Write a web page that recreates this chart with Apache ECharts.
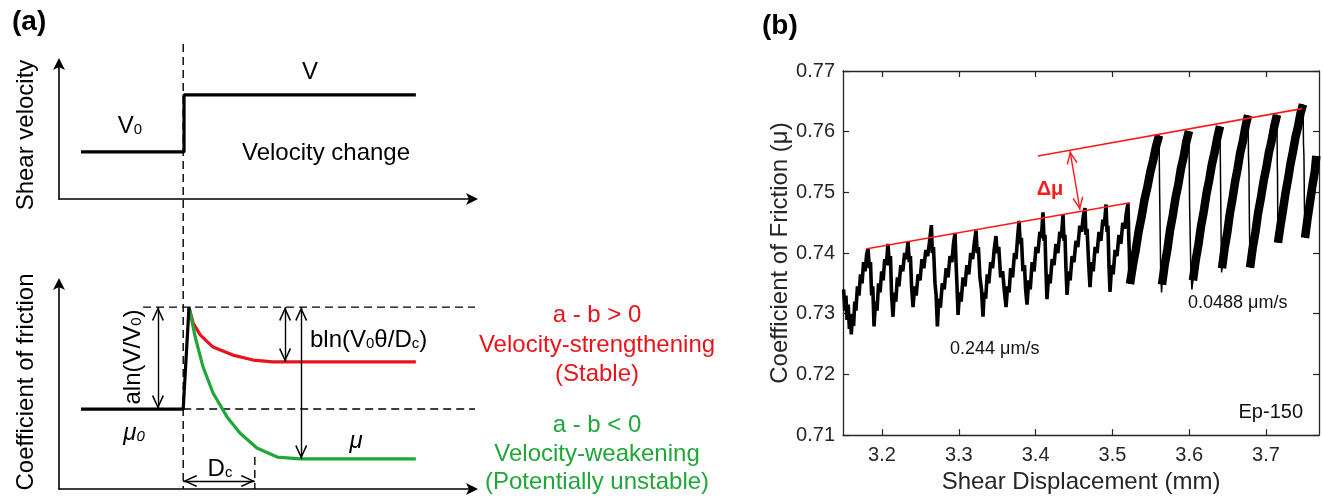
<!DOCTYPE html>
<html>
<head>
<meta charset="utf-8">
<script src="https://cdn.jsdelivr.net/npm/echarts@6/dist/echarts.min.js"></script>
<style>
html,body{margin:0;padding:0;background:#fff;}
#chart{width:1323px;height:499px;}
</style>
</head>
<body>
<div id="chart"></div>
<script>
// ---------- (a) rate-and-state schematic, arbitrary units ----------
const stepVelocity = [[0.53,3.46],[3.02,3.46],[3.02,7.65],[8.62,7.65]];
const frictionBefore = [[0.53,3.88],[3.0,3.88],[3.14,8.83]];
const frictionStrengthening = [[3.14,8.83],[3.24,8.06],[3.41,7.48],[3.72,6.89],[4.20,6.50],[4.69,6.26],[5.17,6.17],[8.62,6.17]];
const frictionWeakening = [[3.14,8.83],[3.29,7.38],[3.48,5.92],[3.72,4.66],[4.06,3.50],[4.37,2.72],[4.78,1.99],[5.27,1.55],[5.82,1.46],[8.62,1.46]];
const stepGuide = [[3.0,11.4],[3.0,-21.3]];
const peakLevel = [[2.03,8.83],[10.05,8.83]];
const baseLevel = [[3.0,3.88],[10.05,3.88]];
const dcGuide = [[4.73,1.55],[4.73,0]];
const spanArrows = [
  [[2.39,8.83],[2.39,3.88]],
  [[5.46,8.83],[5.46,6.17]],
  [[5.85,8.83],[5.85,1.46]],
  [[3.0,0.39],[4.73,0.39]]
];

// ---------- (b) friction record, Ep-150 ----------
const xTicks = [3.2,3.3,3.4,3.5,3.6,3.7];
const traceFast = [
[3.1500,0.7340],[3.1515,0.7305],[3.1530,0.7330],[3.1545,0.7290],[3.1560,0.7315],[3.1575,0.7275],[3.1590,0.7300],[3.1600,0.7266],[3.1615,0.7295],[3.1630,0.7280],[3.1645,0.7320],[3.1660,0.7305],[3.1680,0.7345],[3.1700,0.7330],[3.1720,0.7365],[3.1740,0.7350],[3.1760,0.7385],[3.1780,0.7370],[3.1800,0.7398],[3.1818,0.7407],
[3.1835,0.7375],[3.1850,0.7385],[3.1865,0.7330],[3.1880,0.7345],[3.1896,0.7279],
[3.1915,0.7320],[3.1935,0.7305],[3.1955,0.7350],[3.1975,0.7335],[3.1995,0.7370],[3.2015,0.7355],[3.2035,0.7390],[3.2055,0.7380],[3.2078,0.7415],
[3.2095,0.7380],[3.2110,0.7395],[3.2125,0.7330],[3.2143,0.7295],
[3.2160,0.7335],[3.2180,0.7320],[3.2200,0.7360],[3.2220,0.7345],[3.2245,0.7380],[3.2270,0.7370],[3.2295,0.7400],[3.2315,0.7390],[3.2339,0.7419],
[3.2355,0.7385],[3.2370,0.7395],[3.2385,0.7345],[3.2404,0.7311],
[3.2425,0.7345],[3.2445,0.7330],[3.2470,0.7365],[3.2495,0.7355],[3.2520,0.7390],[3.2545,0.7375],[3.2570,0.7405],[3.2595,0.7395],[3.2620,0.7420],[3.2643,0.7446],
[3.2655,0.7400],[3.2670,0.7410],[3.2690,0.7350],[3.2705,0.7330],[3.2721,0.7279],
[3.2740,0.7325],[3.2760,0.7310],[3.2785,0.7350],[3.2810,0.7340],[3.2835,0.7375],[3.2860,0.7360],[3.2885,0.7395],[3.2910,0.7385],[3.2930,0.7415],[3.2951,0.7433],
[3.2962,0.7390],[3.2975,0.7350],[3.2990,0.7298],
[3.3010,0.7335],[3.3030,0.7320],[3.3055,0.7360],[3.3080,0.7345],[3.3105,0.7380],[3.3130,0.7365],[3.3155,0.7400],[3.3180,0.7390],[3.3200,0.7415],[3.3224,0.7437],
[3.3240,0.7400],[3.3255,0.7410],[3.3275,0.7360],[3.3295,0.7340],[3.3315,0.7295],
[3.3330,0.7335],[3.3350,0.7325],[3.3370,0.7365],[3.3390,0.7350],[3.3415,0.7385],[3.3440,0.7375],[3.3460,0.7405],[3.3484,0.7428],
[3.3500,0.7400],[3.3520,0.7410],[3.3545,0.7360],[3.3570,0.7370],[3.3595,0.7335],[3.3615,0.7311],
[3.3635,0.7345],[3.3655,0.7335],[3.3675,0.7375],[3.3700,0.7360],[3.3725,0.7400],[3.3745,0.7390],[3.3765,0.7425],[3.3784,0.7453],
[3.3800,0.7415],[3.3815,0.7425],[3.3835,0.7370],[3.3855,0.7380],[3.3870,0.7340],[3.3888,0.7315],
[3.3910,0.7355],[3.3930,0.7340],[3.3955,0.7385],[3.3980,0.7370],[3.4005,0.7410],[3.4030,0.7400],[3.4055,0.7435],[3.4075,0.7425],[3.4096,0.7467],
[3.4110,0.7420],[3.4122,0.7430],[3.4135,0.7370],[3.4148,0.7324],
[3.4170,0.7365],[3.4190,0.7350],[3.4215,0.7390],[3.4240,0.7380],[3.4265,0.7415],[3.4290,0.7400],[3.4315,0.7435],[3.4335,0.7425],[3.4357,0.7463],
[3.4370,0.7420],[3.4382,0.7430],[3.4395,0.7375],[3.4409,0.7331],
[3.4430,0.7370],[3.4450,0.7355],[3.4475,0.7395],[3.4500,0.7385],[3.4525,0.7420],[3.4550,0.7410],[3.4575,0.7445],[3.4600,0.7435],[3.4620,0.7460],[3.4643,0.7474],
[3.4655,0.7430],[3.4670,0.7440],[3.4690,0.7385],[3.4708,0.7344],
[3.4730,0.7385],[3.4750,0.7370],[3.4775,0.7410],[3.4800,0.7400],[3.4825,0.7435],[3.4850,0.7420],[3.4875,0.7455],[3.4895,0.7445],[3.4917,0.7480],
[3.4930,0.7435],[3.4942,0.7445],[3.4955,0.7380],[3.4969,0.7336],
[3.4990,0.7380],[3.5010,0.7365],[3.5035,0.7405],[3.5060,0.7395],[3.5085,0.7430],[3.5110,0.7415],[3.5135,0.7450],[3.5160,0.7440],[3.5180,0.7465],[3.5203,0.7482],
[3.5212,0.7430],[3.5220,0.7400],[3.5229,0.7349]
];
// slow-rate loading ramps (0.0488 µm/s) and the stress drops after each peak
const rampsSlow = [
 [[3.5229,0.7349],[3.5267,0.7380],[3.5305,0.7406],[3.5342,0.7436],[3.5380,0.7460],[3.5418,0.7488],[3.5456,0.7509],[3.5494,0.7534],[3.5531,0.7553],[3.5569,0.7576],[3.5607,0.7594]],
 [[3.5646,0.7348],[3.5681,0.7381],[3.5716,0.7406],[3.5751,0.7438],[3.5786,0.7462],[3.5822,0.7491],[3.5857,0.7512],[3.5892,0.7539],[3.5927,0.7558],[3.5962,0.7583],[3.5997,0.7601]],
 [[3.6049,0.7355],[3.6084,0.7388],[3.6119,0.7413],[3.6155,0.7445],[3.6190,0.7469],[3.6225,0.7498],[3.6260,0.7520],[3.6295,0.7546],[3.6331,0.7566],[3.6366,0.7590],[3.6401,0.7609]],
 [[3.6427,0.7375],[3.6461,0.7408],[3.6495,0.7433],[3.6529,0.7465],[3.6563,0.7489],[3.6597,0.7517],[3.6630,0.7539],[3.6664,0.7565],[3.6698,0.7584],[3.6732,0.7608],[3.6766,0.7627]],
 [[3.6792,0.7376],[3.6827,0.7409],[3.6862,0.7434],[3.6897,0.7466],[3.6932,0.7490],[3.6968,0.7518],[3.7003,0.7540],[3.7038,0.7566],[3.7073,0.7585],[3.7108,0.7609],[3.7143,0.7628]],
 [[3.7156,0.7417],[3.7189,0.7446],[3.7221,0.7471],[3.7254,0.7499],[3.7286,0.7521],[3.7319,0.7547],[3.7352,0.7568],[3.7384,0.7591],[3.7417,0.7608],[3.7449,0.7630],[3.7482,0.7645]],
 [[3.7508,0.7425],[3.7540,0.7456],[3.7572,0.7483],[3.7604,0.7511],[3.7636,0.7535],[3.7655,0.7560]]
];
const dropsSlow = [
 [[3.5607,0.7594],[3.5615,0.7500],[3.5628,0.7372],[3.5640,0.7335],[3.5646,0.7348]],
 [[3.5997,0.7601],[3.6005,0.7480],[3.6020,0.7380],[3.6035,0.7340],[3.6049,0.7355]],
 [[3.6401,0.7609],[3.6408,0.7520],[3.6416,0.7420],[3.6422,0.7368],[3.6427,0.7375]],
 [[3.6766,0.7627],[3.6772,0.7560],[3.6778,0.7535],[3.6784,0.7450],[3.6792,0.7376]],
 [[3.7143,0.7628],[3.7147,0.7545],[3.7150,0.7530],[3.7153,0.7460],[3.7156,0.7417]],
 [[3.7482,0.7645],[3.7488,0.7580],[3.7494,0.7560],[3.7500,0.7480],[3.7508,0.7425]],
 [[3.7655,0.7560],[3.7668,0.7540],[3.7680,0.7548]]
];
const envelopeFast = [[3.1805,0.7407],[3.5229,0.7483]];
const envelopeSlow = [[3.4030,0.7560],[3.7470,0.7638]];
const deltaMuSpan = [[3.4448,0.7568],[3.4578,0.7471]];

// ---------- build ----------
const FONT = '"Liberation Sans", Arial, Helvetica, sans-serif';
const RED = '#e8141c', GREEN = '#21a63a', LINE_RED = '#ff1a1a';
// open arrowhead; the zero-area first sub-path centres the tip on the line end
const chevron = 'path://M6,-13.4 L6.01,-13.4 L6,-13.39 Z M6,0 L12,12.4 L10.7,13.4 L6,3.3 L1.3,13.4 L0,12.4 Z';

const slowPath = [];
rampsSlow.forEach((r, i) => { slowPath.push(...r, ...dropsSlow[i]); });

function spanLine(pair) {
  return [{coord: pair[0]}, {coord: pair[1]}];
}

function hiddenAxis(grid, min, max) {
  return {
    type: 'value', gridIndex: grid, min, max,
    axisLine: {show: true, lineStyle: {color: '#000', width: 1.6}, symbol: ['none', 'arrow'], symbolSize: [9, 12], symbolOffset: [0, 5]},
    axisTick: {show: false}, axisLabel: {show: false}, splitLine: {show: false}
  };
}

const frameLine = {show: true, onZero: false, lineStyle: {color: '#262626', width: 1.3}};
const tickStyle = {show: true, inside: true, length: 6, lineStyle: {color: '#262626', width: 1.2}};

const series = [
  // (a) top: shear velocity step
  {type: 'line', xAxisIndex: 0, yAxisIndex: 0, data: stepVelocity, showSymbol: false,
   lineStyle: {color: '#000', width: 3.2}, z: 3},
  {type: 'line', xAxisIndex: 0, yAxisIndex: 0, data: stepGuide, showSymbol: false, clip: false,
   lineStyle: {color: '#000', width: 1.4, type: [8, 5]}, z: 2},
  // (a) bottom: friction response
  {type: 'line', xAxisIndex: 1, yAxisIndex: 1, data: peakLevel, showSymbol: false, clip: false,
   lineStyle: {color: '#000', width: 1.4, type: [8, 5]}},
  {type: 'line', xAxisIndex: 1, yAxisIndex: 1, data: baseLevel, showSymbol: false, clip: false,
   lineStyle: {color: '#000', width: 1.4, type: [8, 5]}},
  {type: 'line', xAxisIndex: 1, yAxisIndex: 1, data: dcGuide, showSymbol: false,
   lineStyle: {color: '#000', width: 1.4, type: [8, 5]}},
  {type: 'line', xAxisIndex: 1, yAxisIndex: 1, data: frictionStrengthening, showSymbol: false,
   lineStyle: {color: RED, width: 3.2}, z: 4},
  {type: 'line', xAxisIndex: 1, yAxisIndex: 1, data: frictionWeakening, showSymbol: false,
   lineStyle: {color: GREEN, width: 3.2}, z: 4},
  {type: 'line', xAxisIndex: 1, yAxisIndex: 1, data: frictionBefore, showSymbol: false,
   lineStyle: {color: '#000', width: 3.2}, z: 5,
   markLine: {
     silent: true, animation: false,
     symbol: [chevron, chevron], symbolSize: [12, 28],
     itemStyle: {color: '#000'},
     lineStyle: {color: '#000', width: 1.4, type: 'solid'},
     label: {show: false},
     data: spanArrows.map(spanLine)
   }},
  // (b) friction record
  {type: 'line', xAxisIndex: 2, yAxisIndex: 2, data: traceFast, showSymbol: false,
   lineStyle: {color: '#000', width: 3.6, join: 'miter', miterLimit: 3}, z: 2},
  {type: 'line', xAxisIndex: 2, yAxisIndex: 2, data: slowPath, showSymbol: false,
   lineStyle: {color: '#000', width: 1.5}, z: 2},
  ...rampsSlow.map(r => ({type: 'line', xAxisIndex: 2, yAxisIndex: 2, data: r, showSymbol: false,
   lineStyle: {color: '#000', width: 8.5, join: 'miter', cap: 'butt'}, z: 2})),
  {type: 'line', xAxisIndex: 2, yAxisIndex: 2, data: envelopeFast, showSymbol: false,
   lineStyle: {color: LINE_RED, width: 1.6}, z: 5},
  {type: 'line', xAxisIndex: 2, yAxisIndex: 2, data: envelopeSlow, showSymbol: false,
   lineStyle: {color: LINE_RED, width: 1.6}, z: 5,
   markLine: {
     silent: true, animation: false,
     symbol: [chevron, chevron], symbolSize: [11, 26],
     itemStyle: {color: LINE_RED},
     lineStyle: {color: LINE_RED, width: 1.4, type: 'solid'},
     label: {show: false},
     data: [spanLine(deltaMuSpan)]
   }}
];

function txt(x, y, text, o) {
  o = o || {};
  return {
    type: 'text', x, y, rotation: o.rot || 0, z: 100,
    style: Object.assign({
      text, fill: o.color || '#000', fontFamily: FONT, fontSize: o.size || 24,
      fontWeight: o.weight || 'normal', fontStyle: o.italic ? 'italic' : 'normal',
      align: o.align || 'center', textAlign: o.align || 'center',
      verticalAlign: 'middle', textVerticalAlign: 'middle'
    }, o.rich ? {rich: o.rich} : {})
  };
}
const subRich = {
  m: {fontFamily: FONT, fontSize: 24, fill: '#000', color: '#000'},
  s: {fontFamily: FONT, fontSize: 15, fill: '#000', color: '#000', verticalAlign: 'bottom', padding: [0, 0, 1, 0]},
  mi: {fontFamily: FONT, fontSize: 24, fontStyle: 'italic', fill: '#000', color: '#000'},
  si: {fontFamily: FONT, fontSize: 15, fontStyle: 'italic', fill: '#000', color: '#000', verticalAlign: 'bottom', padding: [0, 0, 1, 0]}
};

const graphics = [
  txt(12, 22, '(a)', {size: 28, weight: 'bold', align: 'left'}),
  txt(26, 135, 'Shear velocity', {rot: Math.PI / 2}),
  txt(26, 382, 'Coefficient of friction', {rot: Math.PI / 2}),
  txt(310, 72, 'V'),
  txt(130, 126, '{m|V}{s|0}', {rich: subRich}),
  txt(326, 153, 'Velocity change'),
  txt(133, 357, '{m|aln(V/V}{s|0}{m|)}', {rot: Math.PI / 2, rich: subRich}),
  txt(310, 340, '{m|bln(V}{s|0}{m|θ/D}{s|c}{m|)}', {align: 'left', rich: subRich}),
  txt(134, 433, '{mi|μ}{si|0}', {rich: subRich}),
  txt(356, 441, 'μ', {italic: true}),
  txt(220, 469, '{m|D}{s|c}', {rich: subRich}),
  txt(597, 315, 'a - b > 0', {color: RED}),
  txt(597, 345, 'Velocity-strengthening', {color: RED}),
  txt(597, 374, '(Stable)', {color: RED}),
  txt(597, 425, 'a - b < 0', {color: GREEN}),
  txt(597, 454, 'Velocity-weakening', {color: GREEN}),
  txt(597, 482, '(Potentially unstable)', {color: GREEN}),
  txt(762, 26, '(b)', {size: 28, weight: 'bold', align: 'left'}),
  txt(1050, 189, 'Δμ', {size: 20, weight: 'bold', color: LINE_RED}),
  txt(950, 349, '0.244 μm/s', {size: 18, align: 'left', color: '#111'}),
  txt(1188, 303, '0.0488 μm/s', {size: 18, align: 'left', color: '#111'}),
  txt(1303, 412, 'Ep-150', {size: 20, align: 'right', color: '#111'})
];

const option = {
  animation: false,
  backgroundColor: '#fff',
  textStyle: {fontFamily: FONT},
  grid: [
    {left: 59, top: 63, width: 414, height: 136},
    {left: 59, top: 283, width: 414, height: 206},
    {left: 843, top: 71, width: 476, height: 369}
  ],
  xAxis: [
    hiddenAxis(0, 0, 10),
    hiddenAxis(1, 0, 10),
    {type: 'value', gridIndex: 2, min: 3.1492, max: 3.769, position: 'bottom',
     axisLine: frameLine,
     axisTick: Object.assign({customValues: xTicks}, tickStyle),
     axisLabel: {customValues: xTicks, formatter: v => v.toFixed(1), fontSize: 20, color: '#262626', margin: 10, fontFamily: FONT},
     splitLine: {show: false},
     name: 'Shear Displacement (mm)', nameLocation: 'middle', nameGap: 32,
     nameTextStyle: {fontSize: 24, color: '#262626', fontFamily: FONT}},
    {type: 'value', gridIndex: 2, min: 3.1492, max: 3.769, position: 'top',
     axisLine: frameLine,
     axisTick: Object.assign({customValues: xTicks}, tickStyle),
     axisLabel: {show: false}, splitLine: {show: false}}
  ],
  yAxis: [
    hiddenAxis(0, 0, 10),
    hiddenAxis(1, 0, 10),
    {type: 'value', gridIndex: 2, min: 0.71, max: 0.77, interval: 0.01, position: 'left',
     axisLine: frameLine, axisTick: tickStyle,
     axisLabel: {formatter: v => v.toFixed(2), fontSize: 20, color: '#262626', margin: 8, fontFamily: FONT},
     splitLine: {show: false},
     name: 'Coefficient of Friction (μ)', nameLocation: 'middle', nameGap: 50,
     nameTextStyle: {fontSize: 24, color: '#262626', fontFamily: FONT}},
    {type: 'value', gridIndex: 2, min: 0.71, max: 0.77, interval: 0.01, position: 'right',
     axisLine: frameLine, axisTick: tickStyle,
     axisLabel: {show: false}, splitLine: {show: false}}
  ],
  series: series.map(s => Object.assign({animation: false, silent: true, emphasis: {disabled: true}}, s)),
  graphic: graphics
};

const chart = echarts.init(document.getElementById('chart'), null, {renderer: 'canvas'});
chart.setOption(option);
</script>
</body>
</html>
